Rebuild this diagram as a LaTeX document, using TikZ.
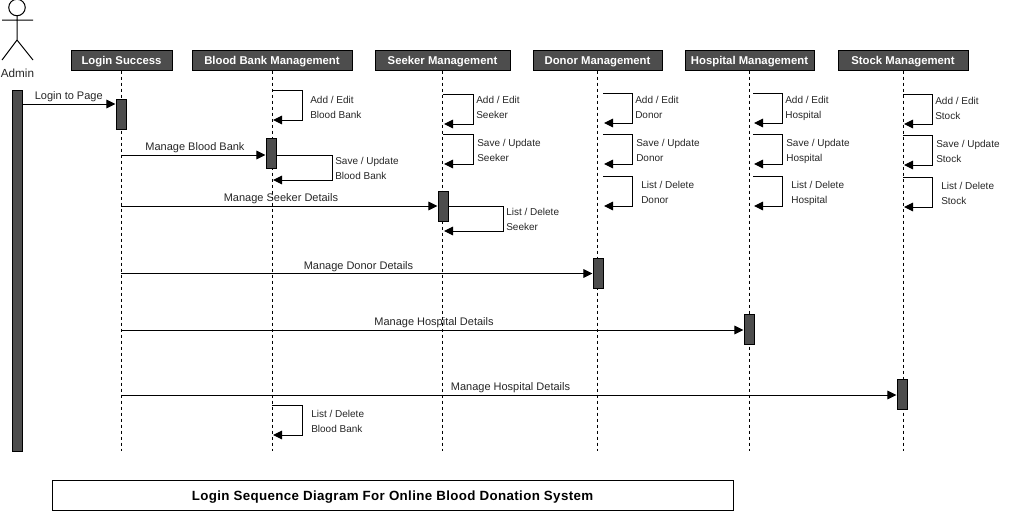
\documentclass[tikz,border=0pt]{standalone}
\usepackage{fontspec}
\setmainfont{Liberation Sans}
\usetikzlibrary{arrows.meta}
\definecolor{headfill}{HTML}{4D4D4D}
\tikzset{
    head/.style={draw=black, line width=.75pt, fill=headfill, text=white, inner sep=0pt,
                 minimum height=15pt, text height=7.5pt, text depth=1.5pt,
                 font=\fontsize{8.5}{10}\selectfont\bfseries},
    bar/.style={draw=black, line width=.75pt, fill=headfill, inner sep=0pt,
                minimum width=7.5pt, minimum height=22.5pt},
    lifeline/.style={line width=.75pt, dash pattern=on 2.25pt off 2.25pt},
    msg/.style={line width=.75pt, -{Triangle[length=6.8pt,width=6.5pt]}},
    msglabel/.style={font=\fontsize{8.25}{10}\selectfont, inner sep=0pt, above=1pt, text=black!85},
    calllabel/.style={font=\fontsize{7.5}{11.25}\selectfont, align=left, anchor=west, inner sep=0pt, text=black!85}
}
\begin{document}
\begin{tikzpicture}[x=.75pt, y=-.75pt]
    \useasboundingbox (0,0) rectangle (1012,511);
    % actor
    \begin{scope}[line width=.75pt]
        \clip (-5,0) rectangle (40,70);
        \draw (17,7.5) circle (8.25);
        \draw (17,15.75) -- (17,40) (2,20) -- (33,20) (2,60) -- (17,40) -- (33,60);
    \end{scope}
    \node[font=\fontsize{8.8}{10}\selectfont, inner sep=0pt, text=black!85] (admin) at (17.5,73.5) {Admin};

    % headers
    \node[head, minimum width=75.75pt] (login) at (121.5,60) {Login Success};
    \node[head, minimum width=120pt] (bloodbank) at (272,60) {Blood Bank Management};
    \node[head, minimum width=101.25pt] (seeker) at (442.5,60) {Seeker Management};
    \node[head, minimum width=96.75pt] (donor) at (597.5,60) {Donor Management};
    \node[head, minimum width=96.75pt] (hospital) at (749.5,60) {Hospital Management};
    \node[head, minimum width=97.5pt] (stock) at (903,60) {Stock Management};

    \coordinate (bottom) at (0,451);
    \foreach \life in {login,bloodbank,seeker,donor,hospital,stock}
        \draw[lifeline] (\life.south) -- (\life.south |- bottom);

    % bars
    \node[bar, minimum height=270.75pt] (adminbar) at (17,270.5) {};
    \node[bar] (loginbar) at (121,114) {};
    \node[bar] (bloodbankbar) at (271,153) {};
    \node[bar] (seekerbar) at (443,206) {};
    \node[bar] (donorbar) at (598,273) {};
    \node[bar] (hospitalbar) at (749,329) {};
    \node[bar] (stockbar) at (902,394) {};

    % messages
    \coordinate (lgfrom) at (22,104);
    \draw[msg] (lgfrom) -- node[msglabel] {Login to Page} (lgfrom -| loginbar.west);
    \foreach \nm/\y/\target/\txt in {bb/155/bloodbankbar/Manage Blood Bank,
                                     sk/206/seekerbar/Manage Seeker Details,
                                     dn/273.5/donorbar/Manage Donor Details,
                                     hs/330/hospitalbar/Manage Hospital Details,
                                     st/395/stockbar/Manage Hospital Details} {
        \coordinate (\nm from) at (121,\y);
        \draw[msg] (\nm from) -- node[msglabel, xshift=1.3pt] {\txt} (\nm from -| \target.west);
    }

    % self calls on the lifelines
    \foreach \nm/\x/\xr/\y/\xl/\yl/\txta/\txtb in {
            bba/272/302/90/310/107.5/{Add / Edit}/Blood Bank,
            bbc/272/302/405/311/421.5/{List / Delete}/Blood Bank,
            ska/443/473/94/476/107.5/{Add / Edit}/Seeker,
            skb/443/473/134/477/150.5/{Save / Update}/Seeker,
            dna/603/632/93/635/107.5/{Add / Edit}/Donor,
            dnb/603/632/134/636/150.5/{Save / Update}/Donor,
            dnc/603/632/176/641/192.5/{List / Delete}/Donor,
            hsa/753/782/93/785/108/{Add / Edit}/Hospital,
            hsb/753/782/134/786/151/{Save / Update}/Hospital,
            hsc/753/782/176/791/193/{List / Delete}/Hospital,
            sta/903/932/94/935/108.5/{Add / Edit}/Stock,
            stb/903/932/135/936/151.5/{Save / Update}/Stock,
            stc/903/932/177/941/193.5/{List / Delete}/Stock} {
        \coordinate (\nm from) at (\x,\y);
        \coordinate (\nm turn) at (\xr,\y);
        \coordinate (\nm back) at (\x+1,\y+30);
        \draw[msg] (\nm from) -- (\nm turn) |- (\nm back);
        \node[calllabel] (\nm label) at (\xl,\yl) {\txta\\\txtb};
    }

    % self calls leaving a bar
    \coordinate (bbout) at (276,155);
    \coordinate (bbturn) at (332,155);
    \coordinate (bbback) at (273,180);
    \draw[msg] (bbout) -- (bbturn) |- (bbback);
    \node[calllabel] (bbsave) at (335,168.5) {Save / Update\\Blood Bank};
    \coordinate (skout) at (448,206);
    \coordinate (skturn) at (503,206);
    \coordinate (skback) at (444,231);
    \draw[msg] (skout) -- (skturn) |- (skback);
    \node[calllabel] (sklist) at (506,219.5) {List / Delete\\Seeker};

    % caption
    \node[draw=black, line width=.75pt, minimum width=510.75pt, minimum height=22.5pt, inner sep=0pt,
          text height=8.8pt, text depth=2pt,
          font=\fontsize{10}{12}\selectfont\bfseries\addfontfeatures{LetterSpace=2.7}] (caption) at (392.5,495.5)
          {Login Sequence Diagram For Online Blood Donation System\hspace{3pt}};
\end{tikzpicture}
\end{document}
